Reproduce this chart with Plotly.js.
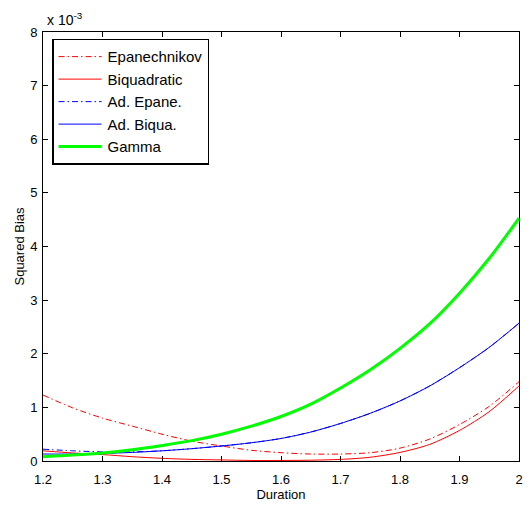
<!DOCTYPE html>
<html>
<head>
<meta charset="utf-8">
<script src="https://cdn.plot.ly/plotly-3.0.1.min.js"></script>
<style>
  html, body { margin: 0; padding: 0; background: #ffffff; }
  #chart { width: 530px; height: 508px; }
</style>
</head>
<body>
<div id="chart"></div>
<script>
// Duration grid
const duration = [1.20, 1.25, 1.30, 1.35, 1.40, 1.45, 1.50, 1.55, 1.60,
                  1.65, 1.70, 1.75, 1.80, 1.85, 1.90, 1.95, 2.00];

// Squared bias of each estimator, in units of 1e-3
const epanechnikov = [1.23, 0.99, 0.80, 0.65, 0.50, 0.37, 0.28, 0.20, 0.155,
                      0.13, 0.13, 0.155, 0.24, 0.41, 0.68, 1.02, 1.48];
const biquadratic  = [0.19, 0.15, 0.12, 0.08, 0.05, 0.03, 0.02, 0.01, 0.01,
                      0.015, 0.03, 0.07, 0.16, 0.31, 0.57, 0.92, 1.40];
const adEpane      = [0.22, 0.19, 0.17, 0.17, 0.19, 0.23, 0.28, 0.34, 0.42,
                      0.54, 0.70, 0.89, 1.12, 1.40, 1.74, 2.12, 2.57];
const adBiqua      = [0.13, 0.13, 0.14, 0.16, 0.19, 0.23, 0.28, 0.34, 0.42,
                      0.54, 0.70, 0.89, 1.12, 1.40, 1.74, 2.12, 2.57];
const gamma        = [0.08, 0.11, 0.15, 0.21, 0.29, 0.38, 0.50, 0.65, 0.83,
                      1.06, 1.36, 1.70, 2.10, 2.56, 3.13, 3.78, 4.53];

const xTicks = [1.2, 1.3, 1.4, 1.5, 1.6, 1.7, 1.8, 1.9, 2.0];
const xTickText = ['1.2', '1.3', '1.4', '1.5', '1.6', '1.7', '1.8', '1.9', '2'];
const yTicks = [0, 1, 2, 3, 4, 5, 6, 7, 8];

const dashDot = '6px,3px,1.5px,3px';

const traces = [
  { name: 'Epanechnikov', y: epanechnikov, line: { color: '#ff0000', width: 1, dash: dashDot } },
  { name: 'Biquadratic',  y: biquadratic,  line: { color: '#ff0000', width: 1 } },
  { name: 'Ad. Epane.',   y: adEpane,      line: { color: '#0000ff', width: 1, dash: dashDot } },
  { name: 'Ad. Biqua.',   y: adBiqua,      line: { color: '#0000ff', width: 1 } },
  { name: 'Gamma',        y: gamma,        line: { color: '#00ff00', width: 3 } }
].map(t => Object.assign({
  x: duration,
  type: 'scatter',
  mode: 'lines',
  hoverinfo: 'skip'
}, t, { line: Object.assign({ shape: 'spline', smoothing: 0.8 }, t.line) }));

const axisCommon = {
  showline: true,
  linecolor: '#000000',
  linewidth: 1,
  mirror: 'ticks',
  ticks: 'inside',
  ticklen: 5,
  tickwidth: 1,
  tickcolor: '#000000',
  showgrid: false,
  zeroline: false,
  tickfont: { family: 'Liberation Sans, Arial, sans-serif', size: 13, color: '#000000' }
};

const layout = {
  width: 530,
  height: 508,
  margin: { l: 43, r: 11, t: 32, b: 47 },
  paper_bgcolor: '#ffffff',
  plot_bgcolor: '#ffffff',
  font: { family: 'Liberation Sans, Arial, sans-serif', color: '#000000' },
  showlegend: true,
  xaxis: Object.assign({}, axisCommon, {
    range: [1.2, 2.0],
    tickmode: 'array',
    tickvals: xTicks,
    ticktext: xTickText,
    ticklabelstandoff: 6,
    title: { text: 'Duration', font: { size: 13 }, standoff: 4 }
  }),
  yaxis: Object.assign({}, axisCommon, {
    range: [0, 8],
    tickmode: 'array',
    tickvals: yTicks,
    ticklabelstandoff: 2,
    title: { text: 'Squared Bias', font: { size: 13 }, standoff: 2 }
  }),
  legend: {
    x: 0.019,
    y: 0.984,
    xanchor: 'left',
    yanchor: 'top',
    bgcolor: '#ffffff',
    bordercolor: '#000000',
    borderwidth: 1.5,
    font: { size: 15, color: '#000000' },
    itemwidth: 44
  },
  annotations: [{
    xref: 'paper', yref: 'paper',
    x: 0, y: 1,
    xanchor: 'left', yanchor: 'bottom',
    xshift: 2,
    yshift: 2,
    showarrow: false,
    text: 'x 10<sup>-3</sup>',
    font: { size: 14, color: '#000000' }
  }]
};

Plotly.newPlot('chart', traces, layout, { displayModeBar: false, staticPlot: true }).then(gd => {
  // lengthen the legend line samples to fill the wider symbol column
  gd.querySelectorAll('.legend .legendlines path').forEach(p => p.setAttribute('d', 'M5,0h43'));
});
</script>
</body>
</html>
